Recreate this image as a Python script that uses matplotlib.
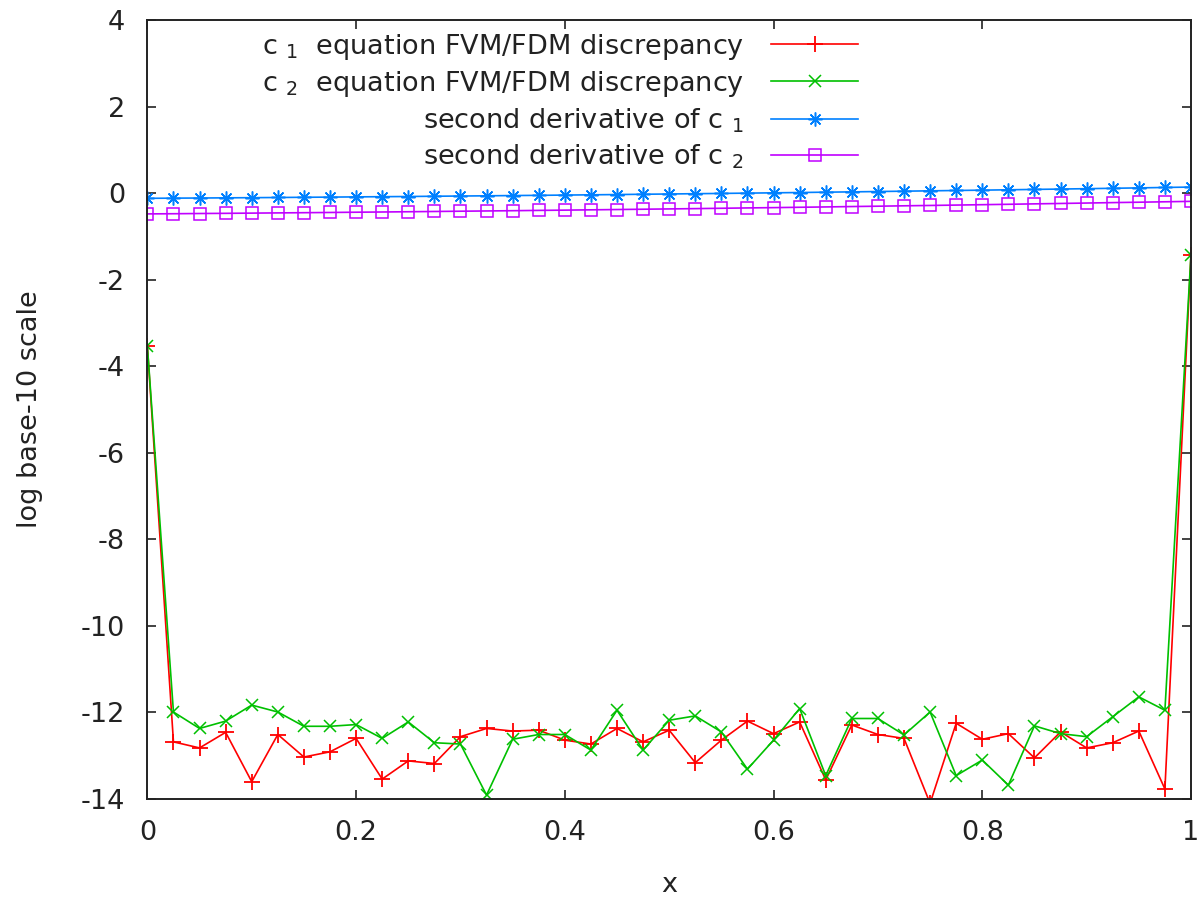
import matplotlib
matplotlib.use("Agg")
import matplotlib.pyplot as plt

plt.rcParams["font.family"] = ["DejaVu Sans"]
plt.rcParams["mathtext.fontset"] = "dejavusans"
plt.rcParams["mathtext.default"] = "regular"
plt.rcParams["axes.unicode_minus"] = False

x = [i / 40 for i in range(41)]

# log10 of the FVM/FDM discrepancy for each equation
c1_disc = [-3.53, -12.68, -12.82, -12.46, -13.60, -12.51, -13.03, -12.91, -12.60, -13.54,
           -13.12, -13.18, -12.56, -12.37, -12.43, -12.41, -12.64, -12.73, -12.37, -12.68,
           -12.41, -13.16, -12.64, -12.20, -12.49, -12.22, -13.56, -12.29, -12.51, -12.60,
           -14.10, -12.25, -12.62, -12.49, -13.05, -12.45, -12.82, -12.70, -12.43, -13.77,
           -1.42]
c2_disc = [-3.53, -11.99, -12.37, -12.20, -11.83, -11.99, -12.32, -12.32, -12.28, -12.60,
           -12.22, -12.70, -12.73, -13.91, -12.62, -12.51, -12.51, -12.87, -11.95, -12.87,
           -12.18, -12.08, -12.45, -13.31, -12.64, -11.91, -13.46, -12.14, -12.14, -12.52,
           -11.99, -13.46, -13.10, -13.68, -12.31, -12.49, -12.56, -12.10, -11.64, -11.95,
           -1.42]

# log10 of the second derivatives
c1_d2 = [-0.120, -0.116, -0.113, -0.109, -0.105, -0.101, -0.096, -0.092, -0.087, -0.082,
         -0.078, -0.072, -0.067, -0.062, -0.056, -0.051, -0.045, -0.039, -0.033, -0.026,
         -0.020, -0.013, -0.007, 0.000, 0.007, 0.014, 0.022, 0.029, 0.037, 0.045,
         0.053, 0.061, 0.069, 0.077, 0.086, 0.094, 0.103, 0.112, 0.121, 0.131,
         0.140]
c2_d2 = [-0.480, -0.476, -0.471, -0.467, -0.462, -0.457, -0.452, -0.447, -0.441, -0.436,
         -0.430, -0.424, -0.418, -0.412, -0.406, -0.399, -0.393, -0.386, -0.379, -0.372,
         -0.365, -0.358, -0.350, -0.342, -0.335, -0.327, -0.319, -0.310, -0.302, -0.293,
         -0.285, -0.276, -0.267, -0.258, -0.248, -0.239, -0.229, -0.219, -0.210, -0.200,
         -0.190]

fs = 19.5
ink = "#222222"
fig = plt.figure(figsize=(12, 9.02), dpi=100)
ax = fig.add_axes([0.1228, 0.1142, 0.8697, 0.8636])

lw = 1.2
ax.plot(x, c1_disc, color="#ff0000", lw=lw, marker="+", ms=11, mew=1.3,
        label=r"c $_{1}$  equation FVM/FDM discrepancy")
ax.plot(x, c2_disc, color="#00c000", lw=lw, marker="x", ms=9, mew=1.1,
        label=r"c $_{2}$  equation FVM/FDM discrepancy")
ax.plot(x, c1_d2, color="#0080ff", lw=lw, marker=(8, 2, 0), ms=10, mew=1.1,
        label=r"second derivative of c $_{1}$")
ax.plot(x, c2_d2, color="#c000ff", lw=lw, marker="s", ms=8, mew=1.1, mfc="none",
        label=r"second derivative of c $_{2}$")

ax.set_xlim(0, 1)
ax.set_ylim(-14, 4)
ax.set_xticks([0, 0.2, 0.4, 0.6, 0.8, 1])
ax.set_xticklabels(["0", "0.2", "0.4", "0.6", "0.8", "1"])
ax.set_yticks(range(-14, 5, 2))
ax.tick_params(direction="in", length=6.5, width=1.2, labelsize=fs, pad=16,
               top=True, right=True, colors=ink)
ax.tick_params(axis="x", pad=15)
for s in ax.spines.values():
    s.set_linewidth(1.4)
    s.set_color(ink)

ax.set_xlabel("x", fontsize=fs, color=ink, labelpad=19)
ax.set_ylabel("log base-10 scale", fontsize=fs, color=ink, labelpad=27)

ax.legend(loc="upper right", bbox_to_anchor=(0.715, 0.965), bbox_transform=fig.transFigure,
          frameon=False, markerfirst=False, fontsize=fs, handlelength=3.2,
          handletextpad=1.0, labelspacing=0.27, borderpad=0, borderaxespad=0,
          labelcolor=ink)

fig.savefig("out.png", dpi=100)
